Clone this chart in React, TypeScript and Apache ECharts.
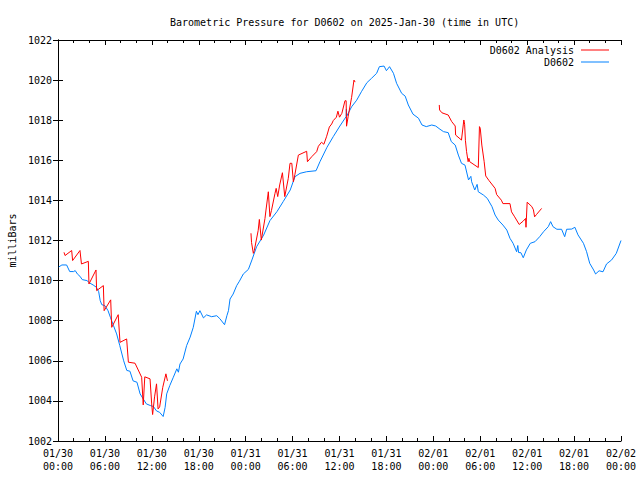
import React, { useEffect, useRef } from "react";
import * as echarts from "echarts";

const TITLE = "Barometric Pressure for D0602 on 2025-Jan-30 (time in UTC)";
const Y_NAME = "milliBars";
const SERIES_NAMES = ["D0602 Analysis", "D0602"];
const Y_MIN = 1002;
const Y_MAX = 1022;
const X_MIN_H = 0;
const X_MAX_H = 72;

// Station D0602: [hours since 2025-01-30 00:00 UTC, mbar]
const stationPoints: [number, number][] = [
  [0.1, 1010.68], [0.5, 1010.78], [1.1, 1010.78], [1.5, 1010.45], [2.0, 1010.45], [2.2, 1010.5],
  [2.5, 1010.32], [2.8, 1010.22], [3.1, 1010.05], [3.7, 1010.0], [4.1, 1009.87], [4.5, 1009.78],
  [4.9, 1009.67], [5.2, 1009.45], [5.4, 1009.0], [5.6, 1008.8], [6.0, 1008.75], [6.4, 1008.5],
  [6.7, 1008.17], [7.1, 1007.75], [7.5, 1007.34], [7.9, 1006.76], [8.4, 1006.0], [8.8, 1005.52],
  [9.2, 1005.48], [9.6, 1005.0], [10.1, 1004.93], [10.5, 1004.35], [10.9, 1004.1], [11.3, 1003.85],
  [11.8, 1003.77], [12.2, 1003.72], [12.6, 1003.5], [13.0, 1003.43], [13.45, 1003.22], [13.7, 1003.68],
  [13.9, 1004.35], [14.3, 1004.77], [14.75, 1005.18], [15.2, 1005.6], [15.4, 1005.43], [15.6, 1005.84],
  [16.0, 1006.09], [16.45, 1006.76], [16.9, 1007.18], [17.3, 1007.67], [17.7, 1008.47], [17.9, 1008.3],
  [18.15, 1008.5], [18.6, 1008.14], [19.0, 1008.29], [19.65, 1008.2], [20.3, 1008.25], [20.7, 1008.1],
  [21.3, 1007.8], [21.6, 1008.25], [21.8, 1008.5], [22.0, 1009.08], [22.4, 1009.33], [22.85, 1009.75],
  [23.2, 1009.97], [23.7, 1010.33], [24.35, 1010.56], [24.8, 1011.03], [25.4, 1011.69], [26.3, 1012.27],
  [27.1, 1012.99], [28.0, 1013.44], [28.8, 1013.94], [29.7, 1014.52], [30.3, 1015.18], [30.95, 1015.35],
  [31.8, 1015.43], [33.0, 1015.48], [33.5, 1015.93], [34.4, 1016.65], [35.2, 1017.18], [36.05, 1017.71],
  [36.85, 1018.18], [36.88, 1018.55], [36.92, 1018.2], [37.55, 1018.67], [38.2, 1019.0], [38.8, 1019.42],
  [39.5, 1019.87], [40.1, 1020.09], [40.75, 1020.34], [41.1, 1020.67], [41.7, 1020.7], [42.0, 1020.47],
  [42.4, 1020.67], [42.9, 1020.34], [43.3, 1019.84], [43.95, 1019.34], [44.4, 1019.2], [44.8, 1018.76],
  [45.4, 1018.3], [46.1, 1018.1], [46.55, 1017.76], [47.1, 1017.68], [47.8, 1017.76], [48.3, 1017.71],
  [48.85, 1017.55], [49.3, 1017.43], [49.9, 1017.38], [50.3, 1016.93], [50.8, 1016.76], [51.2, 1016.26],
  [51.6, 1015.85], [52.05, 1015.76], [52.5, 1015.02], [52.8, 1015.2], [52.9, 1014.93], [53.3, 1014.52],
  [53.6, 1014.8], [53.75, 1014.43], [54.4, 1014.27], [54.9, 1014.1], [55.5, 1013.69], [55.9, 1013.27],
  [56.3, 1013.02], [56.9, 1012.77], [57.4, 1012.52], [57.8, 1012.11], [58.2, 1011.86], [58.65, 1011.44],
  [58.8, 1011.75], [58.9, 1011.4], [59.2, 1011.39], [59.5, 1011.14], [59.9, 1011.53], [60.4, 1011.86],
  [61.0, 1011.94], [61.6, 1012.19], [62.1, 1012.44], [62.7, 1012.69], [63.0, 1012.94], [63.3, 1012.69],
  [63.8, 1012.56], [64.4, 1012.56], [64.8, 1012.19], [65.05, 1012.56], [65.7, 1012.57], [66.1, 1012.66],
  [66.5, 1012.28], [67.2, 1011.86], [67.6, 1011.44], [68.0, 1010.86], [68.5, 1010.53], [68.75, 1010.33],
  [69.2, 1010.49], [69.7, 1010.44], [70.15, 1010.83], [70.8, 1011.03], [71.4, 1011.36], [72.0, 1012.0],
];

// Analysis segments
const analysisSeg1: [number, number][] = [
  [0.77, 1011.41], [0.9, 1011.25], [1.75, 1011.5], [1.87, 1011.0], [2.81, 1011.5], [3.0, 1010.83],
  [3.88, 1010.96], [3.96, 1009.83], [4.86, 1010.53], [4.94, 1009.5], [5.8, 1009.75], [5.9, 1008.5],
  [6.74, 1009.04], [6.87, 1007.67], [7.7, 1008.3], [7.93, 1006.92], [8.78, 1007.09], [9.0, 1005.93],
  [9.85, 1005.88], [10.7, 1005.18], [10.9, 1003.8], [11.1, 1005.2], [11.77, 1005.1], [11.98, 1003.85],
  [12.1, 1003.32], [12.35, 1004.2], [12.6, 1004.85], [12.8, 1003.6], [13.0, 1003.7], [13.4, 1004.68],
  [13.8, 1005.35], [14.0, 1005.0],
];
const analysisSeg2: [number, number][] = [
  [24.68, 1012.36], [24.75, 1011.9], [24.98, 1011.36], [25.1, 1011.5], [25.6, 1012.5], [25.75, 1013.05],
  [26.0, 1012.02], [26.47, 1013.1], [26.6, 1013.52], [26.9, 1014.43], [27.1, 1013.19], [27.3, 1013.5],
  [27.75, 1014.35], [27.9, 1014.6], [28.1, 1014.19], [28.35, 1014.77], [28.7, 1015.38], [29.0, 1014.19],
  [29.45, 1015.1], [29.67, 1015.85], [29.9, 1015.85], [30.1, 1014.93], [30.3, 1015.3], [30.74, 1016.26],
  [31.8, 1016.45], [31.9, 1015.93], [32.45, 1016.18], [33.08, 1016.43], [33.3, 1016.7], [33.7, 1016.9],
  [34.0, 1016.8], [34.36, 1017.2], [34.7, 1017.66], [35.0, 1017.81], [35.2, 1017.98], [35.6, 1018.15],
  [35.8, 1018.45], [36.0, 1018.15], [36.3, 1018.34], [36.7, 1018.97], [36.85, 1018.97], [36.9, 1017.7],
  [37.1, 1018.17], [37.55, 1019.14], [37.85, 1020.0], [38.0, 1019.9],
];
const analysisSeg3: [number, number][] = [
  [48.76, 1018.76], [48.8, 1018.51], [49.1, 1018.37], [49.9, 1018.26], [50.35, 1017.93], [50.8, 1017.71],
  [50.85, 1017.26], [51.6, 1017.01], [51.9, 1018.01], [52.0, 1017.8], [52.1, 1017.0], [52.25, 1016.43],
  [52.45, 1015.93], [52.55, 1016.1], [52.65, 1015.93], [53.75, 1015.64], [53.9, 1017.68], [54.0, 1017.6],
  [54.2, 1016.76], [54.5, 1015.93], [54.7, 1015.22], [55.1, 1015.0], [55.9, 1014.6], [56.1, 1014.29],
  [56.7, 1014.01], [56.9, 1013.84], [57.8, 1013.84], [58.0, 1013.43], [58.4, 1013.18], [58.98, 1012.8],
  [59.5, 1012.97], [59.8, 1013.1], [59.85, 1012.66], [60.0, 1013.91], [60.6, 1013.69], [60.8, 1013.53],
  [60.95, 1013.18], [61.2, 1013.3], [61.85, 1013.6],
];

const FONT = "DejaVu Sans Mono";
const BASE_MS = Date.UTC(2025, 0, 30, 0, 0, 0);

function pad(n: number) {
  return n < 10 ? "0" + n : "" + n;
}
function fmtHour(h: number) {
  const d = new Date(BASE_MS + h * 3600 * 1000);
  return `${pad(d.getUTCMonth() + 1)}/${pad(d.getUTCDate())}\n${pad(d.getUTCHours())}:${pad(d.getUTCMinutes())}`;
}

export default function App() {
  const ref = useRef<HTMLDivElement>(null);
  useEffect(() => {
    if (!ref.current) return;
    const chart = echarts.init(ref.current, null, { renderer: "svg" });
    const analysisData: any[] = [
      ...analysisSeg1,
      [19, null],
      ...analysisSeg2,
      [43, null],
      ...analysisSeg3,
    ];
    const axisLine = { show: true, lineStyle: { color: "#000", width: 1 } };
    const legendCommon = {
      right: 31,
      align: "right",
      icon: "rect",
      itemWidth: 28,
      itemHeight: 1,
      itemGap: 2,
      padding: 0,
      textStyle: { fontFamily: FONT, fontSize: 10, color: "#000", padding: [0, 2, 0, 0] },
    };
    chart.setOption({
      animation: false,
      backgroundColor: "#fff",
      textStyle: { fontFamily: FONT },
      title: {
        text: TITLE,
        left: 165,
        top: 12,
        textStyle: { fontFamily: FONT, fontSize: 10, fontWeight: "normal", color: "#000" },
      },
      legend: [
        { ...legendCommon, data: [SERIES_NAMES[0]], top: 45 },
        { ...legendCommon, data: [SERIES_NAMES[1]], top: 57 },
      ],
      grid: { left: 58, right: 19, top: 40, bottom: 39, containLabel: false, outerBoundsMode: "none" },
      xAxis: [
        {
          type: "value",
          min: X_MIN_H,
          max: X_MAX_H,
          interval: 6,
          position: "bottom",
          axisLine,
          axisTick: { show: true, inside: true, length: 5, lineStyle: { color: "#000" } },
          minorTick: { show: true, splitNumber: 3, length: 3, lineStyle: { color: "#000" } },
          splitLine: { show: false },
          axisLabel: {
            show: true,
            margin: 6,
            fontFamily: FONT,
            fontSize: 10,
            color: "#000",
            lineHeight: 13,
            formatter: (v: number) => fmtHour(v),
          },
        },
        {
          type: "value",
          min: X_MIN_H,
          max: X_MAX_H,
          interval: 6,
          position: "top",
          axisLine,
          axisTick: { show: true, inside: true, length: 5, lineStyle: { color: "#000" } },
          minorTick: { show: true, splitNumber: 3, length: 3, lineStyle: { color: "#000" } },
          splitLine: { show: false },
          axisLabel: { show: false },
        },
      ],
      yAxis: [
        {
          type: "value",
          min: Y_MIN,
          max: Y_MAX,
          interval: 2,
          position: "left",
          name: Y_NAME,
          nameLocation: "middle",
          nameRotate: 90,
          nameGap: 41,
          nameTextStyle: { fontFamily: FONT, fontSize: 10, color: "#000" },
          axisLine,
          axisTick: { show: true, inside: true, length: 5, lineStyle: { color: "#000" } },
          splitLine: { show: false },
          axisLabel: {
            show: true,
            margin: 6,
            fontFamily: FONT,
            fontSize: 10,
            color: "#000",
            formatter: (v: number) => String(v),
          },
        },
        {
          type: "value",
          min: Y_MIN,
          max: Y_MAX,
          interval: 2,
          position: "right",
          axisLine,
          axisTick: { show: true, inside: true, length: 5, lineStyle: { color: "#000" } },
          splitLine: { show: false },
          axisLabel: { show: false },
        },
      ],
      series: [
        {
          name: SERIES_NAMES[0],
          type: "line",
          xAxisIndex: 0,
          yAxisIndex: 0,
          data: analysisData,
          showSymbol: false,
          symbol: "none",
          connectNulls: false,
          lineStyle: { color: "#ff0000", width: 1 },
          itemStyle: { color: "#ff0000" },
          z: 3,
        },
        {
          name: SERIES_NAMES[1],
          type: "line",
          xAxisIndex: 0,
          yAxisIndex: 0,
          data: stationPoints,
          showSymbol: false,
          symbol: "none",
          lineStyle: { color: "#0080ff", width: 1 },
          itemStyle: { color: "#0080ff" },
          z: 2,
        },
      ],
    });
    return () => chart.dispose();
  }, []);
  return <div ref={ref} style={{ width: 640, height: 480, position: "absolute", left: 0, top: 0 }} />;
}
